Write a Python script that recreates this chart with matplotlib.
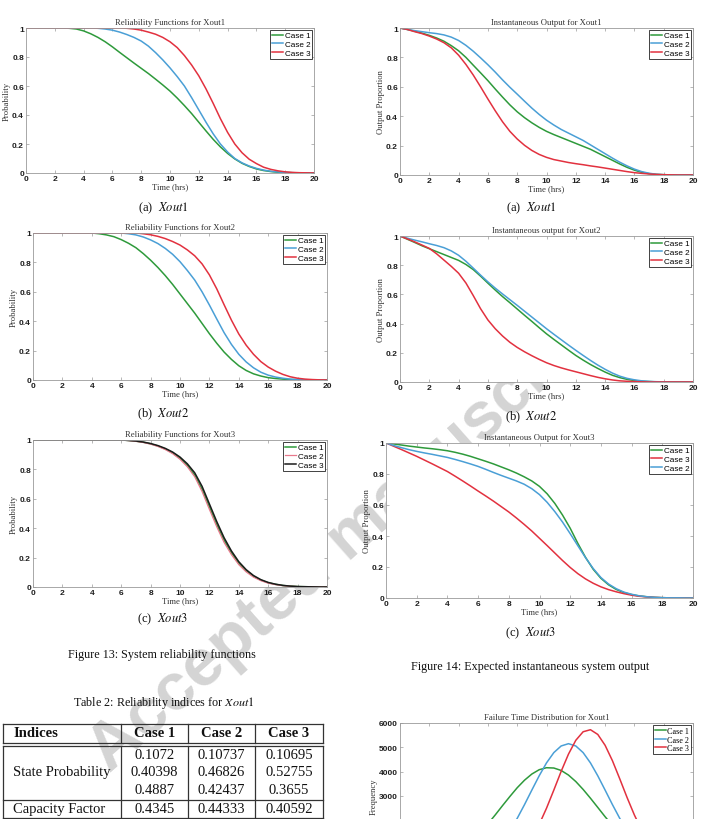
import numpy as np
import matplotlib
matplotlib.use('Agg')
import matplotlib.pyplot as plt
from matplotlib.lines import Line2D

W, H = 713, 820
SANS = 'Liberation Sans'
SERIF = 'Liberation Serif'
plt.rcParams['mathtext.fontset'] = 'stix'

# time grid (hrs) shared by all curves
t = np.arange(0, 20.5, 0.5)

# Reliability functions, Xout1
r1_c1 = [1, 1, 1, 1, 1, 1, 0.998, 0.993, 0.98, 0.96, 0.935, 0.905, 0.87, 0.832, 0.795, 0.758, 0.722, 0.686, 0.647, 0.607,
         0.565, 0.517, 0.465, 0.41, 0.35, 0.29, 0.232, 0.18, 0.135, 0.097, 0.067, 0.045, 0.028, 0.017, 0.01, 0.005,
         0.003, 0.002, 0.001, 0, 0]
r1_c2 = [1, 1, 1, 1, 1, 1, 1, 1, 1, 1, 0.998, 0.993, 0.985, 0.972, 0.955, 0.935, 0.91, 0.875, 0.83, 0.78,
         0.725, 0.665, 0.6, 0.52, 0.435, 0.35, 0.27, 0.2, 0.145, 0.1, 0.07, 0.048, 0.032, 0.02, 0.012, 0.007,
         0.004, 0.002, 0.001, 0, 0]
r1_c3 = [1, 1, 1, 1, 1, 1, 1, 1, 1, 1, 1, 1, 1, 1, 0.998, 0.993, 0.985, 0.972, 0.957, 0.935,
         0.905, 0.865, 0.81, 0.745, 0.67, 0.58, 0.48, 0.375, 0.28, 0.2, 0.14, 0.095, 0.065, 0.04, 0.025, 0.015,
         0.008, 0.004, 0.002, 0.001, 0]

# Instantaneous output, Xout1
o1_c1 = [1, 0.99, 0.978, 0.965, 0.95, 0.932, 0.91, 0.88, 0.845, 0.8, 0.747, 0.695, 0.642, 0.585, 0.53, 0.477,
         0.43, 0.39, 0.355, 0.324, 0.297, 0.275, 0.255, 0.235, 0.215, 0.195, 0.175, 0.15, 0.125, 0.1, 0.075,
         0.052, 0.033, 0.018, 0.009, 0.004, 0.002, 0.001, 0, 0, 0]
o1_c2 = [1, 0.99, 0.982, 0.975, 0.968, 0.962, 0.953, 0.938, 0.915, 0.882, 0.842, 0.797, 0.75, 0.7, 0.647, 0.597,
         0.55, 0.502, 0.455, 0.412, 0.373, 0.34, 0.31, 0.285, 0.26, 0.235, 0.205, 0.175, 0.145, 0.115, 0.087,
         0.062, 0.04, 0.023, 0.012, 0.005, 0.002, 0.001, 0, 0, 0]
o1_c3 = [1, 0.99, 0.975, 0.962, 0.945, 0.925, 0.9, 0.865, 0.815, 0.752, 0.68, 0.6, 0.517, 0.437, 0.362, 0.297,
         0.245, 0.202, 0.167, 0.14, 0.12, 0.105, 0.095, 0.085, 0.077, 0.07, 0.062, 0.055, 0.047, 0.039, 0.031,
         0.023, 0.016, 0.011, 0.007, 0.004, 0.002, 0.001, 0, 0, 0]

# Reliability functions, Xout2
r2_c1 = [1, 1, 1, 1, 1, 1, 1, 1, 1, 0.995, 0.987, 0.975, 0.955, 0.93, 0.9, 0.86, 0.815, 0.765, 0.71, 0.65,
         0.585, 0.52, 0.455, 0.385, 0.315, 0.25, 0.19, 0.14, 0.097, 0.065, 0.042, 0.027, 0.016, 0.01, 0.006,
         0.003, 0.002, 0.001, 0, 0, 0]
r2_c2 = [1, 1, 1, 1, 1, 1, 1, 1, 1, 1, 1, 1, 1, 0.995, 0.987, 0.973, 0.953, 0.928, 0.895, 0.855,
         0.805, 0.745, 0.68, 0.6, 0.51, 0.415, 0.322, 0.242, 0.175, 0.123, 0.083, 0.053, 0.033, 0.02, 0.012,
         0.006, 0.003, 0.002, 0.001, 0, 0]
r2_c3 = [1, 1, 1, 1, 1, 1, 1, 1, 1, 1, 1, 1, 1, 1, 1, 0.995, 0.988, 0.977, 0.962, 0.942,
         0.918, 0.885, 0.845, 0.79, 0.715, 0.62, 0.512, 0.407, 0.313, 0.237, 0.175, 0.125, 0.088, 0.06, 0.038,
         0.022, 0.012, 0.006, 0.003, 0.001, 0]

# Instantaneous output, Xout2
o2_c1 = [1, 0.978, 0.956, 0.933, 0.913, 0.893, 0.873, 0.853, 0.833, 0.805, 0.77, 0.725, 0.677, 0.63, 0.585,
         0.543, 0.5, 0.457, 0.415, 0.372, 0.33, 0.292, 0.255, 0.218, 0.182, 0.15, 0.12, 0.093, 0.068, 0.046,
         0.03, 0.018, 0.01, 0.005, 0.003, 0.001, 0, 0, 0, 0, 0]
o2_c2 = [1, 0.985, 0.972, 0.96, 0.947, 0.935, 0.92, 0.898, 0.868, 0.827, 0.78, 0.732, 0.686, 0.643, 0.603,
         0.564, 0.525, 0.485, 0.445, 0.405, 0.365, 0.327, 0.29, 0.253, 0.217, 0.182, 0.148, 0.116, 0.087,
         0.061, 0.04, 0.025, 0.015, 0.008, 0.004, 0.002, 0.001, 0, 0, 0, 0]
o2_c3 = [1, 0.98, 0.96, 0.938, 0.915, 0.878, 0.835, 0.792, 0.745, 0.678, 0.592, 0.502, 0.425, 0.365, 0.315,
         0.272, 0.237, 0.207, 0.18, 0.155, 0.132, 0.113, 0.097, 0.083, 0.07, 0.057, 0.044, 0.032, 0.022, 0.014,
         0.008, 0.005, 0.003, 0.001, 0, 0, 0, 0, 0, 0, 0]

# Reliability functions, Xout3
r3_c1 = [1, 1, 1, 1, 1, 1, 1, 1, 1, 1, 1, 1, 1, 0.997, 0.992, 0.985, 0.974, 0.959, 0.939, 0.912,
         0.876, 0.827, 0.762, 0.665, 0.545, 0.425, 0.318, 0.232, 0.162, 0.111, 0.073, 0.047, 0.029, 0.018, 0.01,
         0.006, 0.003, 0.002, 0.001, 0, 0]
r3_c2 = [1, 1, 1, 1, 1, 1, 1, 1, 1, 1, 1, 1, 1, 0.996, 0.991, 0.983, 0.972, 0.956, 0.935, 0.907,
         0.869, 0.818, 0.75, 0.65, 0.528, 0.41, 0.303, 0.22, 0.152, 0.103, 0.067, 0.043, 0.026, 0.016,
         0.009, 0.005, 0.003, 0.001, 0.001, 0, 0]
r3_c3 = [1, 1, 1, 1, 1, 1, 1, 1, 1, 1, 1, 1, 1, 0.997, 0.993, 0.986, 0.976, 0.962, 0.943, 0.918,
         0.884, 0.838, 0.777, 0.685, 0.565, 0.445, 0.335, 0.245, 0.172, 0.118, 0.078, 0.05, 0.031, 0.019, 0.011,
         0.006, 0.003, 0.002, 0.001, 0, 0]

# Instantaneous output, Xout3
o3_c1 = [1, 0.994, 0.987, 0.98, 0.974, 0.968, 0.963, 0.957, 0.95, 0.94, 0.928, 0.914, 0.898, 0.882, 0.865,
         0.846, 0.827, 0.806, 0.782, 0.755, 0.72, 0.672, 0.61, 0.535, 0.45, 0.352, 0.262, 0.185, 0.127, 0.085,
         0.055, 0.035, 0.022, 0.013, 0.008, 0.004, 0.002, 0.001, 0.001, 0, 0]
o3_c2 = [1, 0.984, 0.97, 0.957, 0.946, 0.936, 0.927, 0.917, 0.907, 0.894, 0.88, 0.865, 0.849, 0.83, 0.81,
         0.791, 0.773, 0.755, 0.734, 0.705, 0.667, 0.617, 0.557, 0.49, 0.415, 0.337, 0.26, 0.19, 0.132, 0.09,
         0.06, 0.038, 0.024, 0.014, 0.008, 0.004, 0.002, 0.001, 0.001, 0, 0]
o3_c3 = [1, 0.979, 0.958, 0.936, 0.914, 0.89, 0.866, 0.841, 0.816, 0.786, 0.755, 0.723, 0.69, 0.658, 0.625,
         0.59, 0.555, 0.516, 0.475, 0.432, 0.385, 0.338, 0.29, 0.242, 0.197, 0.157, 0.123, 0.095, 0.072, 0.054,
         0.04, 0.028, 0.018, 0.011, 0.007, 0.004, 0.002, 0.001, 0.001, 0, 0]

# Failure time distribution, Xout1 (frequency)
h_c1 = [35, 55, 85, 128, 190, 275, 386, 530, 713, 940, 1207, 1515, 1854, 2222, 2606, 2980, 3339, 3650, 3903,
        4080, 4162, 4150, 4050, 3860, 3594, 3270, 2909, 2530, 2149, 1790, 1448, 1150, 890, 675, 500, 360, 256,
        175, 119, 78, 51]
h_c2 = [0, 0.5, 1.5, 3, 6, 13, 25, 46, 80, 138, 226, 360, 550, 810, 1152, 1578, 2081, 2647, 3244, 3830, 4360,
        4783, 5056, 5150, 5056, 4783, 4360, 3830, 3244, 2647, 2081, 1578, 1152, 810, 550, 360, 226, 138, 80,
        45, 25]
h_c3 = [0, 0, 0, 0, 0, 0, 0, 1, 2, 5, 12, 26, 52, 100, 184, 322, 535, 847, 1276, 1829, 2497, 3243, 4012, 4721,
        5289, 5640, 5724, 5530, 5084, 4451, 3706, 2938, 2218, 1592, 1090, 709, 439, 259, 145, 77, 39]

cases = ['Case 1', 'Case 2', 'Case 3']
xticks = [0, 2, 4, 6, 8, 10, 12, 14, 16, 18, 20]
yticks = [0, 0.2, 0.4, 0.6, 0.8, 1]
ytick_labels = ['0', '0.2', '0.4', '0.6', '0.8', '1']
hist_yticks = [0, 1000, 2000, 3000, 4000, 5000, 6000]

table_cols = ['Indices', 'Case 1', 'Case 2', 'Case 3']
state_prob = [['0.1072', '0.40398', '0.4887'],
              ['0.10737', '0.46826', '0.42437'],
              ['0.10695', '0.52755', '0.3655']]
capacity = ['0.4345', '0.44333', '0.40592']

GREEN = '#2e9a3b'
BLUE = '#4a9fd6'
RED = '#e2313f'
PINK = '#e8788c'
BOX = '#9a9a9a'

fig = plt.figure(figsize=(W / 100, H / 100), dpi=100)


def px_axes(l, r, top, bot):
    return fig.add_axes([l / W, 1 - bot / H, (r - l) / W, (bot - top) / H])


def ftext(x, y, s, **kw):
    kw.setdefault('family', SERIF)
    kw.setdefault('ha', 'center')
    kw.setdefault('va', 'center')
    fig.text(x / W, 1 - y / H, s, **kw)


def fline(x0, y0, x1, y1, lw=0.9):
    fig.add_artist(Line2D([x0 / W, x1 / W], [1 - y0 / H, 1 - y1 / H], transform=fig.transFigure,
                          color='#333333', lw=lw))


def style(ax, title, ylabel, legend_serif=False):
    ax.set_xlim(0, 20)
    ax.set_xticks(xticks)
    for s in ax.spines.values():
        s.set_color(BOX)
        s.set_linewidth(0.6)
    ax.tick_params(direction='in', length=2.5, width=0.5, color=BOX, top=True, right=True,
                   labelsize=6, pad=1.5, labelcolor='#1e1e1e')
    for lab in ax.get_xticklabels() + ax.get_yticklabels():
        lab.set_family(SANS)
        lab.set_fontweight('bold')
    ax.set_title(title, fontsize=6.2, family=SERIF, color='#333333', pad=3)
    ax.set_xlabel('Time (hrs)', fontsize=6.2, family=SERIF, color='#333333', labelpad=0)
    ax.set_ylabel(ylabel, fontsize=6.2, family=SERIF, color='#333333', labelpad=1)
    leg = ax.legend(loc='upper right', handlelength=1.3, handletextpad=0.2, borderpad=0.25,
                    labelspacing=0.1, borderaxespad=0.2, fancybox=False, framealpha=1,
                    prop={'family': SERIF if legend_serif else SANS, 'size': 5.9})
    leg.get_frame().set_edgecolor('#222222')
    leg.get_frame().set_linewidth(0.6)


def prob_axes(ax):
    ax.set_ylim(0, 1)
    ax.set_yticks(yticks)
    ax.set_yticklabels(ytick_labels)


LW = 1.1

# (a) reliability Xout1
ax = px_axes(26, 314, 29, 174)
ax.plot(t, r1_c1, color=GREEN, lw=LW, label=cases[0])
ax.plot(t, r1_c2, color=BLUE, lw=LW, label=cases[1])
ax.plot(t, r1_c3, color=RED, lw=LW, label=cases[2])
prob_axes(ax)
style(ax, 'Reliability Functions for Xout1', 'Probability')

# (a) output Xout1
ax = px_axes(400, 693, 29, 176)
ax.plot(t, o1_c1, color=GREEN, lw=LW, label=cases[0])
ax.plot(t, o1_c2, color=BLUE, lw=LW, label=cases[1])
ax.plot(t, o1_c3, color=RED, lw=LW, label=cases[2])
prob_axes(ax)
style(ax, 'Instantaneous Output for Xout1', 'Output Proportion')

# (b) reliability Xout2
ax = px_axes(33, 327, 234, 381)
ax.plot(t, r2_c1, color=GREEN, lw=LW, label=cases[0])
ax.plot(t, r2_c2, color=BLUE, lw=LW, label=cases[1])
ax.plot(t, r2_c3, color=RED, lw=LW, label=cases[2])
prob_axes(ax)
style(ax, 'Reliability Functions for Xout2', 'Probability')

# (b) output Xout2
ax = px_axes(400, 693, 237, 383)
ax.plot(t, o2_c1, color=GREEN, lw=LW, label=cases[0])
ax.plot(t, o2_c2, color=BLUE, lw=LW, label=cases[1])
ax.plot(t, o2_c3, color=RED, lw=LW, label=cases[2])
prob_axes(ax)
style(ax, 'Instantaneous output for Xout2', 'Output Proportion')

# (c) reliability Xout3
ax = px_axes(33, 327, 441, 588)
ax.plot(t, r3_c1, color=GREEN, lw=LW, label=cases[0])
ax.plot(t, r3_c2, color=PINK, lw=0.9, label=cases[1])
ax.plot(t, r3_c3, color='#1a1a1a', lw=LW, label=cases[2])
prob_axes(ax)
style(ax, 'Reliability Functions for Xout3', 'Probability')

# (c) output Xout3 (legend order 1, 3, 2)
ax = px_axes(386, 693, 444, 599)
ax.plot(t, o3_c1, color=GREEN, lw=LW, label=cases[0])
ax.plot(t, o3_c3, color=RED, lw=LW, label=cases[2])
ax.plot(t, o3_c2, color=BLUE, lw=LW, label=cases[1])
prob_axes(ax)
style(ax, 'Instantaneous Output for Xout3', 'Output Proportion')

# failure time distribution (cut off by the page edge)
ax = px_axes(400, 693, 724, 870)
ax.plot(t, h_c1, color=GREEN, lw=LW, label=cases[0])
ax.plot(t, h_c2, color=BLUE, lw=LW, label=cases[1])
ax.plot(t, h_c3, color=RED, lw=LW, label=cases[2])
ax.set_ylim(0, 6000)
ax.set_yticks(hist_yticks)
style(ax, 'Failure Time Distribution for Xout1', 'Frequency', legend_serif=True)

# captions
cap = dict(fontsize=9, color='#111111')
ftext(163, 208, r'(a)  $Xout1$', **cap)
ftext(531, 208, r'(a)  $Xout1$', **cap)
ftext(163, 414, r'(b)  $Xout2$', **cap)
ftext(531, 417, r'(b)  $Xout2$', **cap)
ftext(163, 619, r'(c)  $Xout3$', **cap)
ftext(531, 633, r'(c)  $Xout3$', **cap)
ftext(162, 655, 'Figure 13: System reliability functions', fontsize=8.7, color='#111111')
ftext(530, 667, 'Figure 14: Expected instantaneous system output', fontsize=8.7, color='#111111')
ftext(164, 703, r'Table 2: Reliability indices for $Xout1$', fontsize=8.7, color='#111111')

# table
col_x = [3, 121, 188, 255, 323]
fline(3, 725, 323, 725)
fline(3, 744, 323, 744)
fline(3, 747, 323, 747)
fline(3, 801, 323, 801)
fline(3, 819, 323, 819)
for x in col_x:
    fline(x, 725, x, 744)
    fline(x, 747, x, 819)
tfont = dict(fontsize=10.5, color='#111111')
ftext(13, 734, table_cols[0], ha='left', fontweight='bold', **tfont)
for j in range(3):
    xc = (col_x[j + 1] + col_x[j + 2]) / 2
    ftext(xc, 734, table_cols[j + 1], fontweight='bold', **tfont)
    for i, yv in enumerate([756, 773, 791]):
        ftext(xc, yv, state_prob[j][i], **tfont)
    ftext(xc, 810, capacity[j], **tfont)
ftext(13, 773, 'State Probability', ha='left', **tfont)
ftext(13, 810, 'Capacity Factor', ha='left', **tfont)

# watermark, sits under the plot images
fig.text(352 / W, 1 - 536 / H, 'Accepted manuscript', family=SANS, fontweight='bold', fontsize=48,
         color='#d4d4d4', rotation=41.5, ha='center', va='center', rotation_mode='anchor', zorder=-1)

fig.savefig('out.png', dpi=100)
